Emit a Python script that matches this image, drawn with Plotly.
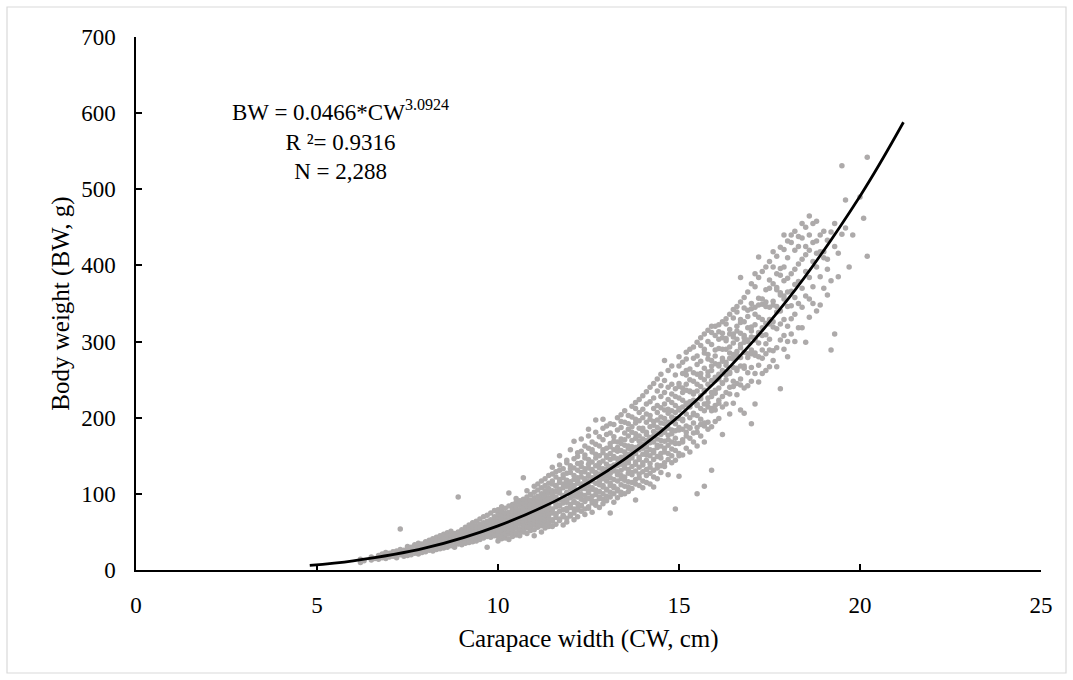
import plotly.graph_objects as go

# ---- data ----
# carapace width columns (cm) and the body weights (g) observed in each column
cw_cols = [6.2, 6.3, 6.5, 6.6, 6.7, 6.8, 6.9,
           7.0, 7.1, 7.2, 7.3, 7.4, 7.5, 7.6, 7.7, 7.8, 7.9,
           8.0, 8.1, 8.2, 8.3, 8.4, 8.5, 8.6, 8.7, 8.8, 8.9,
           9.0, 9.1, 9.2, 9.3, 9.4, 9.5, 9.6, 9.7, 9.8, 9.9,
           10.0, 10.1, 10.2, 10.3, 10.4, 10.5, 10.6, 10.7, 10.8, 10.9,
           11.0, 11.1, 11.2, 11.3, 11.4, 11.5, 11.6, 11.7, 11.8, 11.9,
           12.0, 12.1, 12.2, 12.3, 12.4, 12.5, 12.6, 12.7, 12.8, 12.9,
           13.0, 13.1, 13.2, 13.3, 13.4, 13.5, 13.6, 13.7, 13.8, 13.9,
           14.0, 14.1, 14.2, 14.3, 14.4, 14.5, 14.6, 14.7, 14.8, 14.9,
           15.0, 15.1, 15.2, 15.3, 15.4, 15.5, 15.6, 15.7, 15.8, 15.9,
           16.0, 16.1, 16.2, 16.3, 16.4, 16.5, 16.6, 16.7, 16.8, 16.9,
           17.0, 17.1, 17.2, 17.3, 17.4, 17.5, 17.6, 17.7, 17.8, 17.9,
           18.0, 18.1, 18.2, 18.3, 18.4, 18.5, 18.6, 18.7, 18.8, 18.9,
           19.0, 19.1, 19.2, 19.3, 19.4, 19.5, 19.6, 19.7, 19.8,
           20.0, 20.1, 20.2]

bw_cols = [
    [10, 14], [12], [13, 17], [15], [19, 14], [16, 21], [20, 15, 23],
    [17, 22, 19], [24, 18, 21], [19, 25, 22, 16], [54, 23, 20, 27], [21, 26, 18, 24],
    [28, 22, 25, 19, 31], [23, 27, 30, 20], [26, 22, 33, 29, 24], [31, 24, 27, 21, 35], [25, 30, 28, 34, 23],
    [32, 27, 29, 24, 37, 30], [26, 33, 30, 39, 28, 35], [34, 29, 36, 25, 31, 41], [30, 38, 33, 27, 43, 35],
    [36, 31, 40, 28, 34, 45, 38], [33, 39, 29, 42, 36, 47, 31], [38, 34, 44, 30, 40, 36, 49],
    [41, 35, 39, 46, 32, 37, 51], [36, 43, 40, 33, 48, 38, 45, 30], [96, 42, 37, 46, 40, 50, 34, 44],
    [44, 39, 48, 36, 42, 53, 33, 46], [40, 47, 43, 51, 37, 45, 56, 35], [46, 41, 49, 38, 54, 44, 59, 36, 42],
    [43, 50, 47, 39, 56, 45, 62, 52, 37], [49, 44, 53, 41, 58, 47, 64, 38, 51], [46, 52, 49, 43, 60, 55, 40, 67, 50],
    [51, 45, 57, 48, 62, 42, 54, 70, 47], [53, 48, 59, 44, 64, 51, 30, 56, 72, 46],
    [50, 56, 47, 61, 53, 66, 43, 58, 75, 49], [55, 51, 60, 48, 64, 57, 70, 45, 53, 78],
    [38, 44, 47, 52, 55, 58, 61, 66, 70, 74, 79],
    [41, 45, 50, 53, 57, 60, 63, 64, 68, 73, 77, 83],
    [42, 46, 48, 54, 56, 59, 62, 67, 71, 75, 81],
    [40, 47, 51, 55, 58, 61, 65, 69, 70, 76, 84, 101],
    [44, 49, 53, 57, 60, 63, 66, 68, 72, 78, 80, 86],
    [46, 49, 55, 59, 62, 64, 67, 71, 74, 77, 83, 89, 94],
    [45, 51, 54, 60, 63, 66, 69, 70, 75, 79, 85, 91],
    [50, 53, 57, 61, 64, 68, 72, 73, 78, 82, 88, 93, 121],
    [48, 55, 58, 63, 66, 70, 71, 75, 79, 84, 90, 96, 104],
    [52, 56, 61, 65, 67, 72, 76, 78, 82, 87, 92, 99],
    [45, 53, 59, 62, 66, 70, 74, 77, 80, 85, 89, 95, 102, 110],
    [56, 60, 64, 68, 71, 75, 79, 81, 86, 91, 97, 105, 113],
    [50, 58, 63, 67, 70, 74, 78, 82, 84, 89, 94, 100, 108, 117],
    [55, 61, 65, 69, 73, 77, 80, 85, 88, 92, 98, 104, 111, 120],
    [57, 62, 68, 72, 75, 79, 83, 87, 90, 95, 101, 107, 114, 124],
    [57, 64, 66, 75, 79, 80, 91, 95, 99, 104, 113, 117, 126, 135],
    [60, 69, 73, 74, 83, 87, 94, 96, 103, 110, 111, 122, 129],
    [65, 67, 77, 84, 85, 92, 101, 104, 106, 115, 119, 131, 138, 150],
    [59, 70, 72, 79, 88, 90, 97, 98, 108, 113, 121, 125, 133],
    [63, 68, 78, 81, 89, 92, 93, 102, 110, 116, 118, 127, 141, 144],
    [71, 73, 82, 86, 95, 99, 100, 107, 113, 116, 128, 133, 137, 158],
    [66, 75, 80, 89, 90, 97, 103, 109, 111, 119, 124, 134, 146, 169],
    [70, 79, 81, 87, 96, 101, 102, 114, 118, 121, 131, 140, 149, 154],
    [77, 84, 85, 93, 99, 106, 112, 113, 122, 128, 136, 141, 156, 172],
    [73, 80, 90, 92, 98, 107, 111, 118, 120, 129, 133, 147, 151, 163],
    [81, 83, 94, 101, 103, 110, 116, 123, 125, 134, 139, 145, 160, 176, 185],
    [76, 88, 91, 97, 106, 108, 117, 121, 130, 132, 142, 155, 158, 168],
    [85, 90, 99, 104, 105, 114, 122, 127, 128, 137, 147, 152, 165, 181, 197],
    [82, 94, 96, 103, 112, 116, 119, 126, 134, 140, 141, 150, 163, 175],
    [87, 93, 100, 109, 111, 120, 125, 131, 133, 143, 154, 158, 171, 186, 198],
    [91, 97, 105, 106, 117, 123, 128, 132, 139, 148, 150, 160, 178, 189],
    [75, 96, 102, 111, 114, 121, 127, 135, 136, 145, 153, 162, 166, 180, 192],
    [89, 100, 108, 110, 119, 130, 133, 138, 147, 149, 158, 169, 175, 191],
    [95, 104, 106, 117, 125, 129, 137, 140, 146, 156, 161, 168, 184, 200],
    [99, 102, 112, 120, 124, 131, 139, 145, 148, 157, 166, 172, 187, 195, 204],
    [100, 110, 118, 122, 134, 138, 143, 149, 155, 164, 171, 180, 194, 209],
    [103, 109, 116, 127, 132, 141, 144, 152, 160, 163, 176, 185, 192, 203],
    [107, 115, 125, 128, 136, 147, 150, 157, 162, 170, 181, 188, 201, 215],
    [92, 113, 119, 130, 139, 142, 153, 159, 161, 173, 179, 193, 198, 212, 220],
    [111, 121, 126, 135, 145, 148, 158, 163, 169, 176, 186, 196, 207, 224],
    [108, 117, 129, 138, 141, 152, 160, 165, 172, 183, 186, 200, 211, 229],
    [115, 124, 132, 144, 151, 155, 162, 170, 178, 181, 194, 205, 218, 234],
    [113, 127, 135, 140, 150, 158, 167, 173, 174, 188, 198, 203, 221, 240],
    [109, 122, 131, 145, 154, 157, 168, 176, 182, 190, 195, 212, 226, 245],
    [120, 134, 138, 149, 161, 164, 172, 180, 187, 197, 207, 216, 235, 251],
    [128, 137, 147, 153, 163, 170, 178, 185, 193, 201, 213, 228, 242, 257],
    [136, 141, 155, 160, 169, 181, 183, 192, 199, 210, 218, 233, 249, 275],
    [125, 145, 153, 164, 171, 177, 186, 194, 206, 211, 224, 240, 262],
    [141, 150, 159, 168, 179, 184, 195, 201, 209, 220, 231, 244, 268],
    [80, 144, 157, 166, 173, 183, 192, 199, 207, 216, 228, 238, 256],
    [123, 150, 153, 166, 184, 187, 199, 210, 212, 226, 241, 245, 268, 280],
    [151, 168, 171, 185, 196, 198, 214, 223, 233, 239, 258, 273],
    [160, 176, 181, 189, 205, 217, 219, 236, 244, 256, 262, 277, 286],
    [155, 173, 186, 187, 200, 214, 221, 234, 235, 250, 264, 290],
    [168, 180, 193, 204, 206, 223, 231, 233, 248, 259, 278, 293],
    [100, 163, 181, 187, 203, 216, 218, 235, 244, 257, 270, 281, 299],
    [176, 191, 198, 212, 225, 229, 241, 253, 258, 274, 295, 305],
    [110, 168, 189, 193, 209, 218, 234, 236, 250, 265, 285, 290, 310],
    [185, 194, 214, 220, 226, 244, 255, 260, 277, 283, 300, 315],
    [131, 188, 209, 212, 228, 233, 249, 262, 268, 275, 296, 312, 320],
    [195, 210, 216, 232, 236, 249, 253, 271, 281, 289, 308, 320],
    [199, 219, 223, 239, 251, 257, 268, 270, 291, 303, 313, 322],
    [178, 214, 228, 245, 246, 262, 274, 278, 290, 305, 311, 326],
    [218, 233, 250, 256, 269, 273, 290, 301, 304, 323, 330],
    [205, 231, 240, 258, 260, 278, 285, 293, 310, 316, 336],
    [219, 241, 248, 266, 277, 283, 298, 306, 310, 331, 342],
    [230, 245, 262, 265, 282, 287, 303, 314, 320, 339, 346],
    [210, 243, 251, 268, 279, 292, 296, 311, 325, 329, 352, 384],
    [206, 239, 265, 268, 286, 299, 305, 308, 326, 344, 358],
    [242, 259, 279, 284, 300, 302, 318, 333, 341, 365],
    [192, 248, 266, 284, 289, 306, 314, 319, 343, 350, 376],
    [218, 258, 282, 285, 302, 305, 322, 336, 345, 372, 389],
    [247, 269, 280, 298, 310, 312, 332, 348, 357, 384, 411],
    [258, 278, 289, 308, 318, 329, 349, 356, 392],
    [262, 284, 297, 309, 324, 346, 352, 368, 398],
    [267, 289, 303, 323, 329, 345, 370, 381, 405],
    [275, 288, 319, 326, 348, 353, 376, 398, 418],
    [267, 292, 317, 339, 346, 368, 371, 389, 412],
    [238, 302, 323, 340, 361, 364, 387, 396, 424],
    [290, 308, 329, 356, 360, 380, 398, 421, 440],
    [280, 300, 320, 346, 365, 383, 410, 432],
    [310, 330, 347, 366, 389, 430, 440],
    [300, 336, 358, 375, 395, 420, 445],
    [318, 350, 379, 402, 425, 438],
    [318, 345, 370, 408, 436, 455],
    [299, 360, 392, 414, 425, 450],
    [332, 356, 384, 420, 440, 465],
    [350, 372, 405, 430, 455],
    [340, 398, 416, 432, 458],
    [348, 385, 418, 440],
    [370, 410, 418, 445], [361, 395, 408, 433], [289, 380, 444], [310, 425, 455], [385, 416],
    [441, 531], [449, 486], [398], [440],
    [490], [462], [412, 542],
]

# fitted power curve BW = 0.0466*CW^3.0924
fit_cw = [4.8, 6, 8, 10, 12, 14, 16, 18, 20, 21.2]
fit_bw = [6, 12, 29, 58, 101, 163, 247, 355, 491, 588]

x_ticks = [0, 5, 10, 15, 20, 25]
y_ticks = [0, 100, 200, 300, 400, 500, 600, 700]

assert len(cw_cols) == len(bw_cols)
scatter_x, scatter_y = [], []
for c, ys in zip(cw_cols, bw_cols):
    for v in ys:
        scatter_x.append(c)
        scatter_y.append(v)

FONT = "Liberation Serif, Times New Roman, serif"

fig = go.Figure()
fig.add_trace(go.Scatter(
    x=scatter_x, y=scatter_y, mode="markers",
    marker=dict(size=5.5, color="#ADAAAA", line=dict(width=0)),
    showlegend=False, hoverinfo="skip"))
fig.add_trace(go.Scatter(
    x=fit_cw, y=fit_bw, mode="lines", line=dict(color="black", width=2.75, shape="spline"),
    showlegend=False, hoverinfo="skip"))

axis_common = dict(
    showgrid=False, zeroline=False, showline=True, linecolor="black", linewidth=1.5,
    ticks="inside", ticklen=6, tickwidth=1.5, tickcolor="black",
    tickfont=dict(family=FONT, size=23, color="black"),
)
fig.update_xaxes(range=[0, 25], tickvals=x_ticks, ticktext=[str(t) for t in x_ticks],
                 ticklabelstandoff=14,
                 title=dict(text="Carapace width (CW, cm)", font=dict(family=FONT, size=25, color="black"), standoff=12),
                 **axis_common)
fig.update_yaxes(range=[0, 700], tickvals=y_ticks, ticktext=[str(t) for t in y_ticks],
                 ticklabelstandoff=14,
                 title=dict(text="Body weight (BW, g)", font=dict(family=FONT, size=25, color="black"), standoff=4),
                 **axis_common)

fig.add_annotation(
    x=5.66, y=565, xref="x", yref="y", showarrow=False, align="center",
    xanchor="center", yanchor="middle",
    text="BW = 0.0466*CW<sup>3.0924</sup><br>R ²= 0.9316<br>N = 2,288",
    font=dict(family=FONT, size=23, color="black"))

# light grey chart border
L, R, T, B = 136, 32, 37, 110
W, H = 1073, 680
pw, ph = W - L - R, H - T - B
fig.add_shape(type="rect", xref="paper", yref="paper",
              x0=(7 - L) / pw, x1=(W - 7 - L) / pw,
              y0=-(B - 7) / ph, y1=1 + (T - 7) / ph,
              line=dict(color="#D9D9D9", width=1.2), fillcolor="rgba(0,0,0,0)", layer="below")

fig.update_layout(
    width=W, height=H, margin=dict(l=L, r=R, t=T, b=B),
    paper_bgcolor="white", plot_bgcolor="white",
    font=dict(family=FONT, color="black"),
)
fig.write_html("out.html")
